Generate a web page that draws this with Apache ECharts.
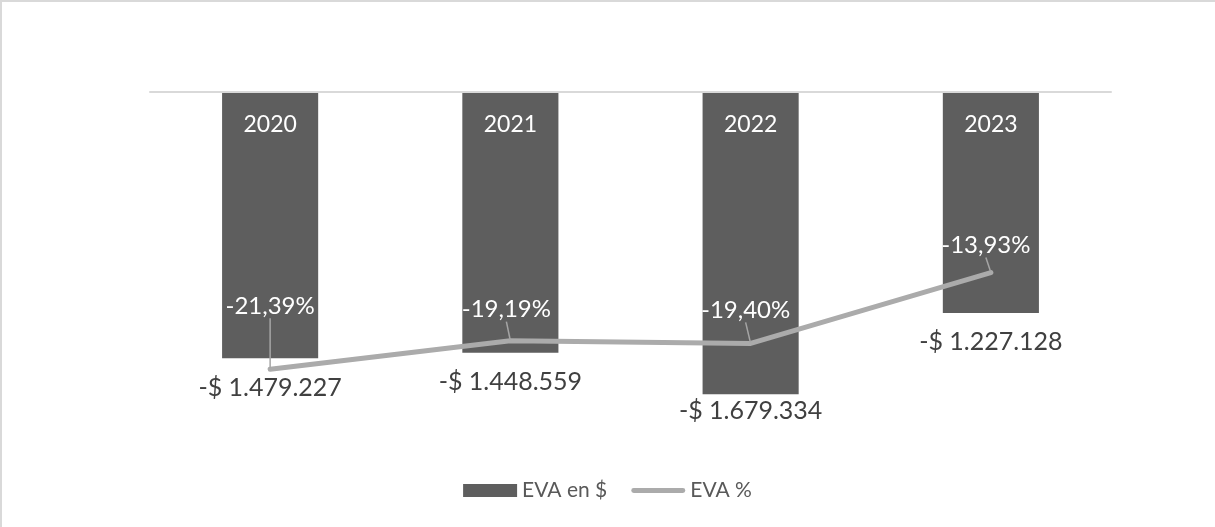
<!DOCTYPE html>
<html>
<head>
<meta charset="utf-8">
<script src="https://cdn.jsdelivr.net/npm/echarts@6/dist/echarts.min.js"></script>
<style>
  html, body { margin: 0; padding: 0; background: #fff; }
  #chart { width: 1215px; height: 527px; }
</style>
</head>
<body>
<div id="chart"></div>
<script>
// datos
const categories = ['2020', '2021', '2022', '2023']
const evaPesos = [-1479227, -1448559, -1679334, -1227128]
const evaPct = [-21.39, -19.19, -19.40, -13.93]

const FONT = 'Lato, "Open Sans", sans-serif'

// desplazamiento de etiquetas (px)
const barLabelDistance = [17, 17, 4, 17]
const lineLabelShift = [[0, -45], [-4, -13], [-5, -15], [-5, -9]]

const fmtMoney = (v) => {
  const s = Math.abs(v).toString().replace(/\B(?=(\d{3})+(?!\d))/g, '.')
  return (v < 0 ? '-' : '') + '$ ' + s
}
const fmtPct = (v) => (v < 0 ? '-' : '') + Math.abs(v).toFixed(2).replace('.', ',') + '%'

const chart = echarts.init(document.getElementById('chart'))

const option = {
  animation: false,
  backgroundColor: '#fff',
  textStyle: { fontFamily: FONT },
  graphic: [{
    type: 'rect',
    silent: true,
    shape: { x: 1, y: 1, width: 1400, height: 700 },
    style: { fill: 'none', stroke: '#d9d9d9', lineWidth: 2 }
  }],
  legend: {
    top: 475,
    left: 'center',
    itemWidth: 54,
    itemHeight: 13,
    itemGap: 24,
    textStyle: { fontSize: 21, color: '#595959', fontFamily: FONT },
    data: [
      { name: 'EVA en $', icon: 'rect' },
      { name: 'EVA %', icon: 'path://M2.5,0 L53.5,0 A2.5,2.5 0 0 1 53.5,5 L2.5,5 A2.5,2.5 0 0 1 2.5,0 Z' }
    ]
  },
  grid: {
    left: 150,
    right: 104,
    top: 92,
    bottom: 111,
    containLabel: false
  },
  xAxis: {
    type: 'category',
    position: 'top',
    z: 10,
    data: categories,
    axisLine: { lineStyle: { color: '#d9d9d9', width: 2 } },
    axisTick: { show: false },
    axisLabel: {
      inside: true,
      margin: 21,
      color: '#ffffff',
      fontSize: 23,
      fontFamily: FONT
    }
  },
  yAxis: [
    { type: 'value', min: -1800000, max: 0, show: false, splitLine: { show: false } },
    { type: 'value', min: -25, max: 0, show: false, splitLine: { show: false } }
  ],
  series: [
    {
      name: 'EVA en $',
      type: 'bar',
      barWidth: '40%',
      itemStyle: { color: '#5e5e5e' },
      data: evaPesos.map((v, i) => ({
        value: v,
        label: { distance: barLabelDistance[i] }
      })),
      label: {
        show: true,
        position: 'bottom',
        color: '#404040',
        fontSize: 25,
        fontFamily: FONT,
        formatter: (p) => fmtMoney(p.value)
      }
    },
    {
      name: 'EVA %',
      type: 'line',
      yAxisIndex: 1,
      data: evaPct,
      symbol: 'circle',
      symbolSize: 2,
      itemStyle: { color: '#ababab' },
      lineStyle: { color: '#ababab', width: 5, cap: 'round', join: 'round' },
      label: {
        show: true,
        position: 'top',
        distance: 5,
        color: '#ffffff',
        fontSize: 24,
        fontFamily: FONT,
        formatter: (p) => fmtPct(p.value)
      },
      labelLine: {
        show: true,
        lineStyle: { color: '#a5a5a5', width: 1.5 }
      },
      labelLayout: (params) => ({
        dx: lineLabelShift[params.dataIndex][0],
        dy: lineLabelShift[params.dataIndex][1]
      })
    }
  ]
}

chart.setOption(option)
</script>
</body>
</html>
